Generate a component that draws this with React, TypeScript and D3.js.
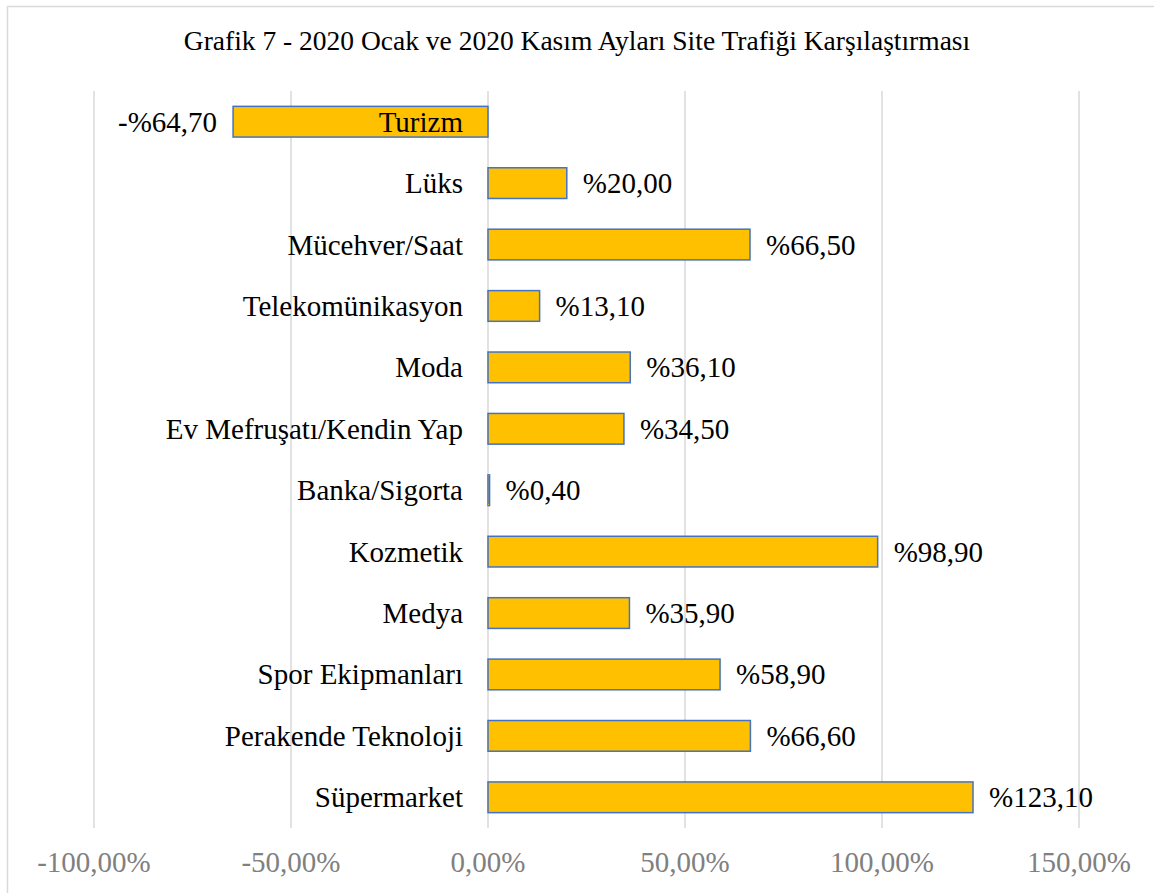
import React, { useEffect, useRef } from "react";
import { scaleBand, scaleLinear, select } from "d3";

const categories = [
  "Turizm",
  "Lüks",
  "Mücehver/Saat",
  "Telekomünikasyon",
  "Moda",
  "Ev Mefruşatı/Kendin Yap",
  "Banka/Sigorta",
  "Kozmetik",
  "Medya",
  "Spor Ekipmanları",
  "Perakende Teknoloji",
  "Süpermarket",
];

const values = [-64.7, 20.0, 66.5, 13.1, 36.1, 34.5, 0.4, 98.9, 35.9, 58.9, 66.6, 123.1];

const ticks = [-100, -50, 0, 50, 100, 150];

const title = "Grafik 7 - 2020 Ocak ve 2020 Kasım Ayları Site Trafiği Karşılaştırması";

const width = 1154;
const height = 893;
const font = "'Liberation Serif', 'Times New Roman', serif";

const fmtValue = (v: number) =>
  (v < 0 ? "-%" : "%") + Math.abs(v).toFixed(2).replace(".", ",");
const fmtTick = (v: number) => v.toFixed(2).replace(".", ",") + "%";

export default function App() {
  const svgRef = useRef<SVGSVGElement | null>(null);

  useEffect(() => {
    const svg = select(svgRef.current);
    svg.selectAll("*").remove();

    const x = scaleLinear().domain([-100, 150]).range([94, 1079]);
    const y = scaleBand<string>()
      .domain(categories)
      .range([91, 828])
      .paddingInner(0.5)
      .paddingOuter(0.25);

    // chart frame (only left and top edges are visible)
    svg
      .append("path")
      .attr("d", `M7.5,${height} V6.5 H${width}`)
      .attr("fill", "none")
      .attr("stroke", "#d9d9d9")
      .attr("stroke-width", 1.5);

    svg
      .append("text")
      .attr("x", 577)
      .attr("y", 50)
      .attr("text-anchor", "middle")
      .attr("font-family", font)
      .attr("font-size", 27.5)
      .attr("fill", "#000")
      .text(title);

    // grid
    svg
      .append("g")
      .selectAll("line")
      .data(ticks)
      .join("line")
      .attr("x1", (d) => x(d))
      .attr("x2", (d) => x(d))
      .attr("y1", 91)
      .attr("y2", 828)
      .attr("stroke", "#d9d9d9")
      .attr("stroke-width", 1.5);

    svg
      .append("g")
      .selectAll("text")
      .data(ticks)
      .join("text")
      .attr("x", (d) => x(d))
      .attr("y", 872)
      .attr("text-anchor", "middle")
      .attr("font-family", font)
      .attr("font-size", 29)
      .attr("fill", "#808080")
      .text((d) => fmtTick(d));

    const rows = categories.map((c, i) => ({ c, v: values[i] }));

    // category labels
    svg
      .append("g")
      .selectAll("text")
      .data(rows)
      .join("text")
      .attr("x", x(0) - 25)
      .attr("y", (d) => (y(d.c) as number) + y.bandwidth() / 2 + 10)
      .attr("text-anchor", "end")
      .attr("font-family", font)
      .attr("font-size", 29)
      .attr("fill", "#000")
      .text((d) => d.c);

    // bars
    svg
      .append("g")
      .selectAll("rect")
      .data(rows)
      .join("rect")
      .attr("x", (d) => x(Math.min(0, d.v)))
      .attr("y", (d) => y(d.c) as number)
      .attr("width", (d) => Math.abs(x(d.v) - x(0)))
      .attr("height", y.bandwidth())
      .attr("fill", "#ffc000")
      .attr("stroke", "#4472c4")
      .attr("stroke-width", 1.5);

    // Turizm label is drawn over its own bar in the original
    svg
      .append("text")
      .attr("x", x(0) - 25)
      .attr("y", (y(categories[0]) as number) + y.bandwidth() / 2 + 10)
      .attr("text-anchor", "end")
      .attr("font-family", font)
      .attr("font-size", 29)
      .attr("fill", "#000")
      .text(categories[0]);

    // value labels
    svg
      .append("g")
      .selectAll("text")
      .data(rows)
      .join("text")
      .attr("x", (d) => (d.v < 0 ? x(d.v) - 16 : x(d.v) + 16))
      .attr("y", (d) => (y(d.c) as number) + y.bandwidth() / 2 + 10)
      .attr("text-anchor", (d) => (d.v < 0 ? "end" : "start"))
      .attr("font-family", font)
      .attr("font-size", 29)
      .attr("fill", "#000")
      .text((d) => fmtValue(d.v));
  }, []);

  return (
    <svg
      ref={svgRef}
      width={width}
      height={height}
      style={{ position: "absolute", left: 0, top: 0, background: "#fff" }}
    />
  );
}
